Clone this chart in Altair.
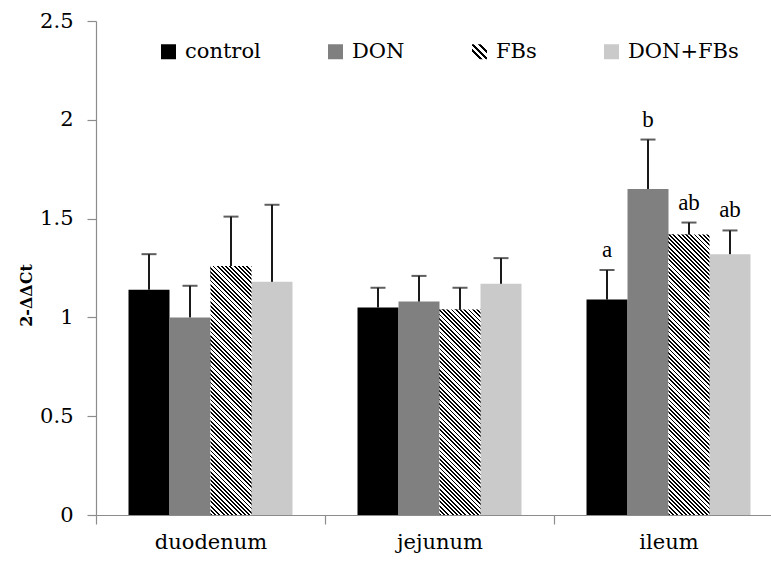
import math
import altair as alt
import pandas as pd

# ---------------- data ----------------
segments = ["duodenum", "jejunum", "ileum"]
groups = ["control", "DON", "FBs", "DON+FBs"]

control_mean = [1.14, 1.05, 1.09]
don_mean = [1.00, 1.08, 1.65]
fbs_mean = [1.26, 1.04, 1.42]
donfbs_mean = [1.18, 1.17, 1.32]

control_err = [0.18, 0.10, 0.15]
don_err = [0.16, 0.13, 0.25]
fbs_err = [0.25, 0.11, 0.06]
donfbs_err = [0.39, 0.13, 0.12]

control_letter = ["", "", "a"]
don_letter = ["", "", "b"]
fbs_letter = ["", "", "ab"]
donfbs_letter = ["", "", "ab"]

y_ticks = [0, 0.5, 1, 1.5, 2, 2.5]

means = [control_mean, don_mean, fbs_mean, donfbs_mean]
errs = [control_err, don_err, fbs_err, donfbs_err]
letters = [control_letter, don_letter, fbs_letter, donfbs_letter]

rows = []
for gi, g in enumerate(groups):
    for si, s in enumerate(segments):
        rows.append({
            "segment": s,
            "group": g,
            "value": means[gi][si],
            "upper": means[gi][si] + errs[gi][si],
            "letter": letters[gi][si],
        })
df = pd.DataFrame(rows)

# ---------------- layout / style ----------------
FONT = "DejaVu Serif"
PLOT_W = 675
PLOT_H = 494
STEP = 229
PAD_OUT = 0.793
BAR_W = STEP / (4 + 2 * PAD_OUT)
K = PLOT_H / 2.5           # pixels per unit on y
AXIS_GRAY = "#8c8c8c"

# hatch gradient (diagonal black stripes) for the FBs bars
PERIOD = 3.0
L = (BAR_W + PLOT_H) / math.sqrt(2)
N = int(L / PERIOD)
FRAC = 0.42
stop_txt = []
for i in range(N):
    a = i / N
    b = (i + FRAC) / N
    c = (i + 1) / N
    stop_txt.append("{offset:%.5f,color:'#000000'}" % a)
    stop_txt.append("{offset:%.5f,color:'#000000'}" % b)
    stop_txt.append("{offset:%.5f,color:'#ffffff'}" % b)
    stop_txt.append("{offset:%.5f,color:'#ffffff'}" % c)
stops_js = "[" + ",".join(stop_txt) + "]"
h_js = "(datum.value*%.5f)" % K
den_js = "(%.5f+%s*%s)" % (BAR_W * BAR_W, h_js, h_js)
x2_js = "%.5f/%s" % (math.sqrt(2) * L * BAR_W, den_js)
y2_js = "1-%.5f*%s/%s" % (math.sqrt(2) * L, h_js, den_js)
hatch_expr = "{gradient:'linear',x1:0,y1:1,x2:%s,y2:%s,stops:%s}" % (x2_js, y2_js, stops_js)

legend_hatch = ("{gradient:'linear',x1:0,y1:1,x2:1,y2:0,stops:["
                "{offset:0,color:'#ffffff'},{offset:0.26,color:'#ffffff'},"
                "{offset:0.26,color:'#000000'},{offset:0.36,color:'#000000'},"
                "{offset:0.36,color:'#ffffff'},{offset:0.47,color:'#ffffff'},"
                "{offset:0.47,color:'#000000'},{offset:0.57,color:'#000000'},"
                "{offset:0.57,color:'#ffffff'},{offset:0.68,color:'#ffffff'},"
                "{offset:0.68,color:'#000000'},{offset:0.78,color:'#000000'},"
                "{offset:0.78,color:'#ffffff'},{offset:1,color:'#ffffff'}]}")

x_enc = alt.X(
    "segment:N", sort=segments,
    scale=alt.Scale(domain=segments, range=[0, 3 * STEP], paddingInner=0, paddingOuter=0),
    axis=alt.Axis(title=None, labelAngle=0, labelFont=FONT, labelFontSize=21,
                  labelColor="#000000", labelPadding=7, tickBand="extent",
                  tickSize=9, tickColor=AXIS_GRAY, domainColor=AXIS_GRAY,
                  tickWidth=1.2, domainWidth=1.2, grid=False),
)
xo_enc = alt.XOffset("group:N", sort=groups,
                     scale=alt.Scale(domain=groups, paddingInner=0, paddingOuter=PAD_OUT))


def y_enc(field):
    return alt.Y(
        field + ":Q",
        scale=alt.Scale(domain=[0, 2.5], nice=False, zero=True),
        axis=alt.Axis(values=y_ticks, labelExpr="'' + datum.value", labelFont=FONT,
                      labelFontSize=21, labelColor="#000000", labelPadding=14,
                      tickSize=9, tickColor=AXIS_GRAY, domainColor=AXIS_GRAY,
                      tickWidth=1.2, domainWidth=1.2, grid=False,
                      title="2-ΔΔCt", titleFont=FONT, titleFontSize=16,
                      titleFontWeight="bold", titleColor="#000000", titleAngle=270,
                      titleX=-70, titleY=274, titleAlign="center", titleBaseline="middle"),
    )


base = alt.Chart(df)

bars = base.mark_bar(strokeWidth=0).encode(
    x=x_enc, xOffset=xo_enc, y=y_enc("value"),
    color=alt.Color(
        "group:N", sort=groups,
        scale=alt.Scale(domain=groups,
                        range=["#000000", "#808080", {"expr": legend_hatch}, "#cacaca"]),
        legend=alt.Legend(title=None, orient="none", legendX=62, legendY=20,
                          direction="horizontal", columns=4, symbolType="square",
                          symbolSize=225, symbolStrokeWidth=0, labelFont=FONT,
                          labelFontSize=21, labelColor="#000000", labelOffset=6,
                          columnPadding=64, padding=0),
    ),
)

hatch = base.transform_filter(
    alt.datum.group == "FBs"
).transform_calculate(
    grad=hatch_expr
).mark_bar(strokeWidth=0).encode(
    x=x_enc, xOffset=xo_enc, y=y_enc("value"),
    fill=alt.Fill("grad:N", scale=None, legend=None),
)

rules = base.mark_rule(color="#1a1a1a", strokeWidth=2).encode(
    x=x_enc, xOffset=xo_enc, y=y_enc("value"), y2="upper:Q",
)

caps = base.mark_tick(color="#1a1a1a", thickness=2, size=15, orient="horizontal").encode(
    x=x_enc, xOffset=xo_enc, y=y_enc("upper"),
)

labels = base.mark_text(font="Liberation Serif", fontSize=23, baseline="bottom", dy=-8,
                        color="#000000").encode(
    x=x_enc, xOffset=xo_enc, y=y_enc("upper"), text="letter:N",
)

chart = alt.layer(bars, hatch, rules, caps, labels).properties(
    width=PLOT_W, height=PLOT_H,
    autosize=alt.AutoSizeParams(type="none"),
    padding={"left": 96, "top": 21, "right": 0, "bottom": 48},
).configure_view(stroke=None)

chart.save("out.html", embed_options={"renderer": "svg", "actions": False})
